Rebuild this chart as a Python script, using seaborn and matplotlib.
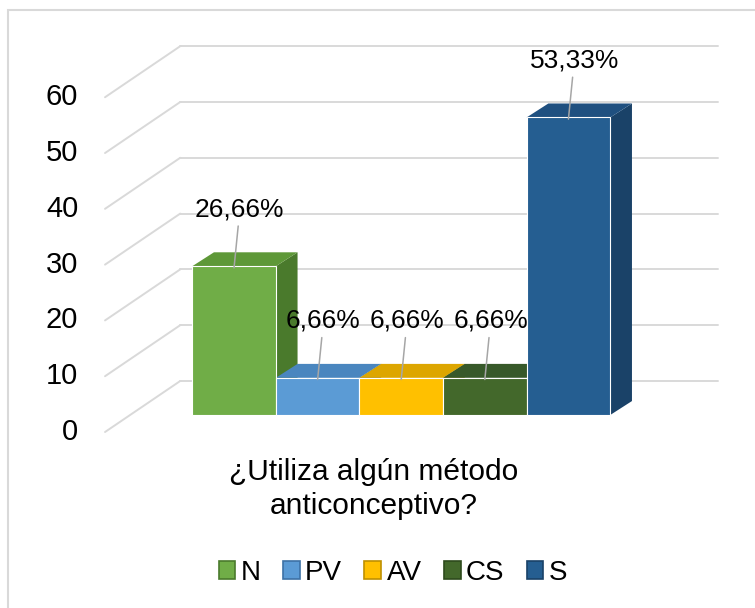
import matplotlib
matplotlib.use("Agg")
import matplotlib.pyplot as plt
from matplotlib.patches import Polygon, Patch, Rectangle
import seaborn as sns

# data
categories = ["N", "PV", "AV", "CS", "S"]
values = [26.66, 6.66, 6.66, 6.66, 53.33]
value_labels = ["26,66%", "6,66%", "6,66%", "6,66%", "53,33%"]
y_ticks = [0, 10, 20, 30, 40, 50, 60]
axis_title = "¿Utiliza algún método\nanticonceptivo?"

front_colors = ["#70AD47", "#5B9BD5", "#FFC000", "#43682B", "#255E91"]
top_colors = ["#5E9838", "#4A86BF", "#DDA600", "#37592A", "#1F5080"]
side_colors = ["#4A7A2C", "#3D72A6", "#BF9000", "#2E4A1C", "#1A4268"]

sns.set_style("white")
plt.rcParams["font.family"] = ["Liberation Sans", "DejaVu Sans"]
plt.rcParams["text.color"] = "black"

# fake 3d depth offsets (in data units)
BAR_DX, BAR_DY = 0.26, 2.5        # depth of each bar
FRONT_DX, FRONT_DY = -0.30, -3.05  # front edge of the floor
BACK_DX, BACK_DY = 0.60, 6.1       # back wall
X_FLOOR_LEFT = -1.543
X_BACK_RIGHT = 5.79
GRID = "#d9d9d9"

fig = plt.figure(figsize=(7.55, 6.08), dpi=100)
ax = fig.add_axes([100 / 755, (608 - 440) / 608, 620 / 755, 410 / 608])

sns.barplot(x=categories, y=values, hue=categories,
            palette=dict(zip(categories, front_colors)),
            width=1.0, saturation=1, legend=False, linewidth=0.8,
            edgecolor="white", ax=ax, zorder=3)

ax.set_xlim(-1.603, 5.813)
ax.set_ylim(-4.48, 69.0)
ax.axis("off")

# back wall grid + floor diagonals + tick labels
for v in y_ticks:
    y_front = v + FRONT_DY
    y_back = v + BACK_DY
    x_back_left = X_FLOOR_LEFT + (BACK_DX - FRONT_DX)
    ax.plot([X_FLOOR_LEFT, x_back_left], [y_front, y_back], color=GRID, lw=1.4, zorder=0.5)
    ax.plot([x_back_left, X_BACK_RIGHT], [y_back, y_back], color=GRID, lw=1.4, zorder=0.5)
    ax.text(X_FLOOR_LEFT - 0.32, y_front, str(v), ha="right", va="center",
            fontsize=21, color="black")

# top and side faces for each bar
for bar, tc, sc in zip(ax.patches, top_colors, side_colors):
    x0 = bar.get_x()
    x1 = x0 + bar.get_width()
    h = bar.get_height()
    side = Polygon([(x1, 0), (x1 + BAR_DX, BAR_DY), (x1 + BAR_DX, h + BAR_DY), (x1, h)],
                   closed=True, facecolor=sc, edgecolor="none", zorder=1.5)
    top = Polygon([(x0, h), (x0 + BAR_DX, h + BAR_DY), (x1 + BAR_DX, h + BAR_DY), (x1, h)],
                  closed=True, facecolor=tc, edgecolor="none", zorder=1.6)
    ax.add_patch(side)
    ax.add_patch(top)

# data labels with leader lines
for bar, lab in zip(ax.patches, value_labels):
    xc = bar.get_x() + bar.get_width() / 2
    h = bar.get_height()
    ax.annotate(lab, xy=(xc, h - 0.3), xytext=(xc + 0.07, h + 10.2),
                ha="center", va="center", fontsize=19, zorder=5, color="black",
                arrowprops=dict(arrowstyle="-", color="#a6a6a6", lw=1.1,
                                shrinkA=1, shrinkB=0))

fig.text(374 / 755, (608 - 489) / 608, axis_title, ha="center", va="center",
         fontsize=21.5, linespacing=1.25, color="black")

handles = [Patch(facecolor=fc, edgecolor=sc, linewidth=1.2)
           for fc, sc in zip(front_colors, side_colors)]
fig.legend(handles=handles, labels=categories, loc="center",
           bbox_to_anchor=(393 / 755, 35 / 608), ncol=5, frameon=False,
           fontsize=20, handlelength=0.6, handleheight=0.6,
           handletextpad=0.2, columnspacing=0.8, labelcolor="black")

# outer chart border (only top and left edges fall inside the image)
fig.add_artist(Rectangle((8 / 755, -0.1), 2, (608 - 10) / 608 + 0.1,
                         transform=fig.transFigure, fill=False,
                         edgecolor=GRID, lw=1.5))

fig.savefig("out.png", dpi=100)
